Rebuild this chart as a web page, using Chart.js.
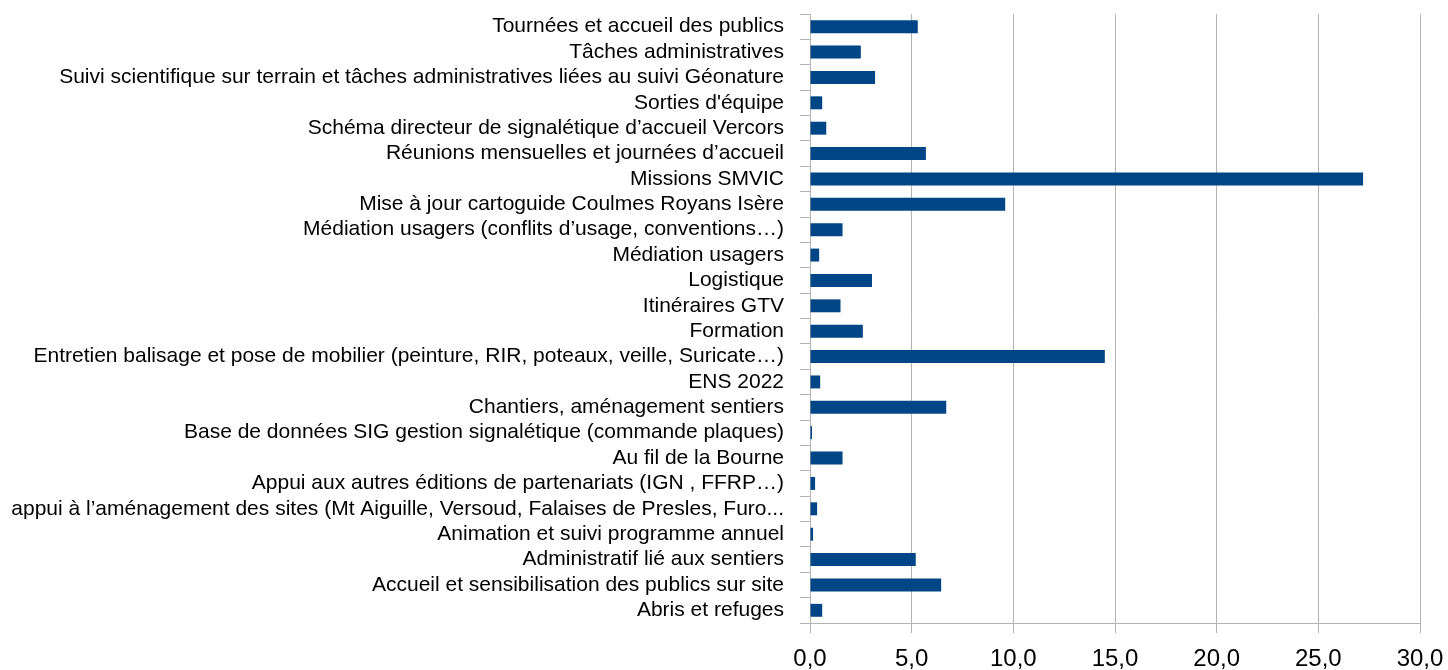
<!DOCTYPE html>
<html>
<head>
<meta charset="utf-8">
<script src="https://cdn.jsdelivr.net/npm/chart.js@4"></script>
<style>
  body { margin: 0; background: #fff; }
  #wrap { width: 1448px; height: 670px; }
</style>
</head>
<body>
<div id="wrap"><canvas id="heuresChart"></canvas></div>
<script>
const categories = [
  "Tournées et accueil des publics",
  "Tâches administratives",
  "Suivi scientifique sur terrain et tâches administratives liées au suivi Géonature",
  "Sorties d'équipe",
  "Schéma directeur de signalétique d’accueil Vercors",
  "Réunions mensuelles et journées d’accueil",
  "Missions SMVIC",
  "Mise à jour cartoguide Coulmes Royans Isère",
  "Médiation usagers (conflits d’usage, conventions…)",
  "Médiation usagers",
  "Logistique",
  "Itinéraires GTV",
  "Formation",
  "Entretien balisage et pose de mobilier (peinture, RIR, poteaux, veille, Suricate…)",
  "ENS 2022",
  "Chantiers, aménagement sentiers",
  "Base de données SIG gestion signalétique (commande plaques)",
  "Au fil de la Bourne",
  "Appui aux autres éditions de partenariats (IGN , FFRP…)",
  "appui à l’aménagement des sites (Mt Aiguille, Versoud, Falaises de Presles, Furo...",
  "Animation et suivi programme annuel",
  "Administratif lié aux sentiers",
  "Accueil et sensibilisation des publics sur site",
  "Abris et refuges"
];

const values = [
  5.3, 2.5, 3.2, 0.6, 0.8, 5.7, 27.2, 9.6,
  1.6, 0.45, 3.05, 1.5, 2.6, 14.5, 0.5, 6.7,
  0.1, 1.6, 0.25, 0.35, 0.15, 5.2, 6.45, 0.6
];

const xTickLabels = ["0,0", "5,0", "10,0", "15,0", "20,0", "25,0", "30,0"];

const gridGrey = "#b3b3b3";

const ctx = document.getElementById("heuresChart").getContext("2d");

new Chart(ctx, {
  type: "bar",
  data: {
    labels: categories,
    datasets: [{
      data: values,
      backgroundColor: "#004586",
      borderWidth: 0,
      categoryPercentage: 1,
      barPercentage: 0.51
    }]
  },
  options: {
    indexAxis: "y",
    responsive: true,
    maintainAspectRatio: false,
    animation: false,
    layout: { padding: { top: 14, left: 10, right: 0, bottom: 0 } },
    plugins: { legend: { display: false }, tooltip: { enabled: false } },
    scales: {
      x: {
        min: 0,
        max: 30,
        // keep the plot right edge at 30,0 like the original
        afterFit: s => { s.height = 47; s.paddingLeft = 0; s.paddingRight = 28; },
        ticks: {
          stepSize: 5,
          color: "#000",
          font: { family: "Liberation Sans", size: 24 },
          padding: 12,
          maxRotation: 0,
          callback: (v, i) => xTickLabels[i]
        },
        grid: { color: gridGrey, lineWidth: 1, tickLength: 10 },
        border: { color: gridGrey }
      },
      y: {
        afterFit: s => { s.width = 800; s.paddingTop = 0; s.paddingBottom = 0; },
        ticks: {
          color: "#000",
          font: { family: "Liberation Sans", size: 21 },
          padding: 16,
          autoSkip: false
        },
        grid: { offset: true, drawOnChartArea: false, color: gridGrey, tickLength: 10 },
        border: { color: gridGrey }
      }
    }
  }
});
</script>
</body>
</html>
